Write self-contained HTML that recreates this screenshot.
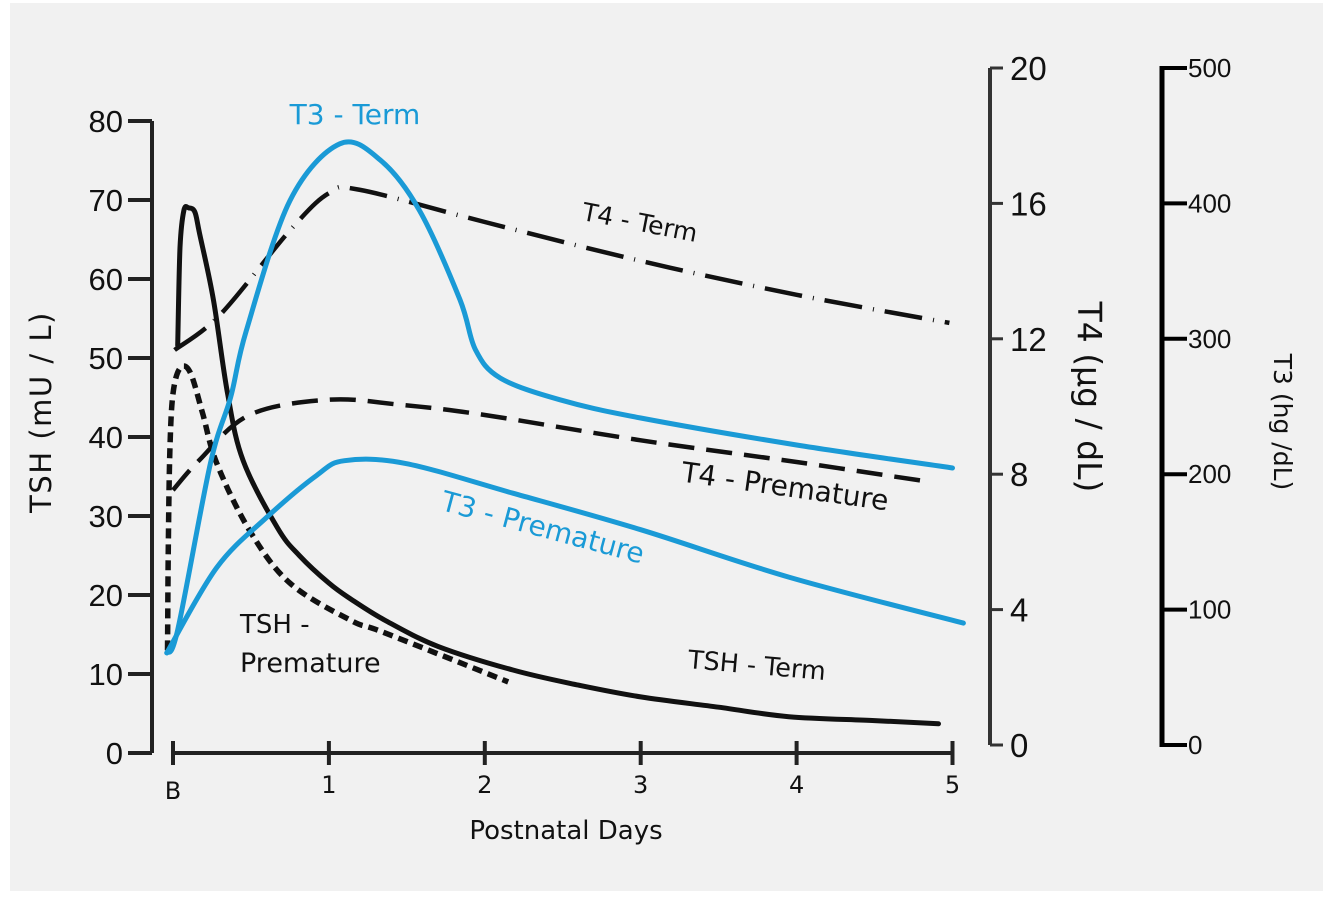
<!DOCTYPE html>
<html><head><meta charset="utf-8"><style>
html,body{margin:0;padding:0;background:#fff;}
svg{display:block;font-family:"Liberation Sans","DejaVu Sans",sans-serif;}
</style></head><body>
<svg id="chart" width="1334" height="897" viewBox="0 0 1334 897" xmlns="http://www.w3.org/2000/svg">
<rect x="10" y="3" width="1313" height="888" fill="#f1f1f1"/>
<g id="axes"></g>
<g id="series"></g>
<g id="labels" font-family="'DejaVu Sans','Liberation Sans',sans-serif">
<text x="355" y="124" font-size="28" fill="#1a9ad6" text-anchor="middle">T3 - Term</text>
<text x="640" y="231" font-size="25" fill="#111" text-anchor="middle" transform="rotate(11 640 222)">T4 - Term</text>
<text x="785" y="496" font-size="28" fill="#111" text-anchor="middle" transform="rotate(8 785 487)">T4 - Premature</text>
<text x="543" y="537" font-size="28" fill="#1a9ad6" text-anchor="middle" transform="rotate(15 543 527)">T3 - Premature</text>
<text x="240" y="633" font-size="26" fill="#111">TSH -</text>
<text x="240" y="672" font-size="27" fill="#111">Premature</text>
<text x="757" y="674" font-size="25.5" fill="#111" text-anchor="middle" transform="rotate(5 757 665)">TSH - Term</text>
<text x="0" y="0" font-size="29" letter-spacing="1.5" fill="#111" text-anchor="middle" transform="translate(51 412) rotate(-90)">TSH (mU / L)</text>
<text x="0" y="0" font-size="33" fill="#111" text-anchor="middle" transform="translate(1078 397) rotate(90)">T4 (µg / dL)</text>
<text x="0" y="0" font-size="25" fill="#111" text-anchor="middle" transform="translate(1274 422) rotate(90)">T3 (hg /dL)</text>
<text x="566" y="839" font-size="26" fill="#111" text-anchor="middle">Postnatal Days</text>
</g>
</svg>
<script>
const xTickLabels = ["B","1","2","3","4","5"];
const xTickDays = [0,1,2,3,4,5];
const tshTicks = [0,10,20,30,40,50,60,70,80];
const t4Ticks = [0,4,8,12,16,20];
const t3Ticks = [0,100,200,300,400,500];

const tshTermDays = [0.03,0.045,0.07,0.1,0.14,0.17,0.26,0.35,0.45,0.67,0.81,1.0,1.14,1.36,1.7,2.18,2.6,3.0,3.5,3.95,4.5,4.91];
const tshTermVals = [51.6,64,68.7,69,68.5,65.8,57.3,45.5,37,28.5,25,21.5,19.5,16.8,13.5,10.5,8.6,7.1,5.8,4.6,4.1,3.7];
const tshPremDays = [-0.035,-0.03,-0.02,0,0.045,0.11,0.19,0.28,0.49,0.75,1.14,1.36,2.15];
const tshPremVals = [13,26,38.4,45.5,48.7,48.2,43,36.7,28.2,21.5,16.8,15.2,9];
const t4TermDays = [0.01,0.3,0.75,1.0,1.2,2.0,3.0,4.0,4.98];
const t4TermVals = [11.67,12.7,15.2,16.3,16.4,15.45,14.3,13.3,12.47];
const t4PremDays = [0,0.17,0.49,1.0,1.46,2.0,3.0,4.0,4.86];
const t4PremVals = [7.53,8.42,9.75,10.2,10.05,9.75,9.0,8.36,7.77];
const t3TermDays = [-0.04,0.03,0.24,0.37,0.47,0.75,1.07,1.33,1.58,1.84,1.94,2.1,2.48,3.0,4.0,5.0];
const t3TermVals = [68,85,208,257,306,402,444,432,395,329,292,271,255,241.5,221.6,204.6];
const t3PremDays = [-0.04,0.28,0.6,0.92,1.1,1.49,2.18,3.0,3.95,5.07];
const t3PremVals = [68,131,168,199,210,208,186,159,124,90];

const NS = "http://www.w3.org/2000/svg";
function xS(d){return 173 + 155.9*d;}
function yTSH(v){return 753 - 7.9*v;}
function yT4(v){return 745 - 33.85*v;}
function yT3(v){return 745 - 1.354*v;}
function mk(tag, attrs, parent){const e=document.createElementNS(NS,tag);for(const k in attrs)e.setAttribute(k,attrs[k]);parent.appendChild(e);return e;}
function smooth(pts){
  let d="M"+pts[0][0].toFixed(1)+","+pts[0][1].toFixed(1);
  for(let i=0;i<pts.length-1;i++){
    const p0=pts[Math.max(0,i-1)],p1=pts[i],p2=pts[i+1],p3=pts[Math.min(pts.length-1,i+2)];
    const c1=[p1[0]+(p2[0]-p0[0])/6,p1[1]+(p2[1]-p0[1])/6];
    const c2=[p2[0]-(p3[0]-p1[0])/6,p2[1]-(p3[1]-p1[1])/6];
    d+=" C"+c1[0].toFixed(1)+","+c1[1].toFixed(1)+" "+c2[0].toFixed(1)+","+c2[1].toFixed(1)+" "+p2[0].toFixed(1)+","+p2[1].toFixed(1);
  }
  return d;
}
const axes=document.getElementById('axes');
const series=document.getElementById('series');
const ax="#222";
const tf="'DejaVu Sans','Liberation Sans',sans-serif";
let el=mk('line',{x1:152,y1:yTSH(80),x2:152,y2:yTSH(0),stroke:ax,'stroke-width':4},axes);


tshTicks.forEach(v=>{
  const t=mk('line',{x1:128,y1:yTSH(v),x2:152,y2:yTSH(v),stroke:ax,'stroke-width':4},axes);
  
  
  const l=mk('text',{x:123,y:yTSH(v)+11,'font-size':31,'text-anchor':'end',fill:'#111'},axes);
  l.textContent=v;
  
  
});
el=mk('line',{x1:xS(0),y1:753,x2:xS(5),y2:753,stroke:ax,'stroke-width':4},axes);


xTickDays.forEach((d,i)=>{
  const t=mk('line',{x1:xS(d),y1:741,x2:xS(d),y2:765,stroke:ax,'stroke-width':4},axes);
  
  
  const l=mk('text',{x:xS(d),y:i===0?799:793,'font-size':24,'font-family':tf,'text-anchor':'middle',fill:'#111'},axes);
  l.textContent=xTickLabels[i];
  
  
});
el=mk('line',{x1:990,y1:yT4(20),x2:990,y2:yT4(0),stroke:'#333','stroke-width':4},axes);


t4Ticks.forEach(v=>{
  const t=mk('line',{x1:990,y1:yT4(v),x2:1003,y2:yT4(v),stroke:'#333','stroke-width':3},axes);
  
  
  const l=mk('text',{x:1010,y:yT4(v)+12,'font-size':33,fill:'#111'},axes);
  l.textContent=v;
  
  
});
el=mk('line',{x1:1162,y1:yT3(500)-2,x2:1162,y2:yT3(0)+2,stroke:'#000','stroke-width':5},axes);


t3Ticks.forEach(v=>{
  const t=mk('line',{x1:1162,y1:yT3(v),x2:1187,y2:yT3(v),stroke:'#000','stroke-width':4},axes);
  
  
  const l=mk('text',{x:1188,y:yT3(v)+9,'font-size':26,fill:'#111'},axes);
  l.textContent=v;
  
  
});
function drawSeries(days, vals, yf, style, name){
  const pts=days.map((d,i)=>[xS(d),yf(vals[i])]);
  const p=mk('path',Object.assign({d:smooth(pts),fill:'none','stroke-linecap':'round','stroke-linejoin':'round'},style),series);
  
  
}
drawSeries(t4TermDays,t4TermVals,yT4,{stroke:'#111','stroke-width':4.5,'stroke-dasharray':'38,11,1,11','stroke-linecap':'butt'},'t4-term-line');
drawSeries(t4PremDays,t4PremVals,yT4,{stroke:'#111','stroke-width':4.5,'stroke-dasharray':'26,12','stroke-linecap':'butt'},'t4-premature-line');
drawSeries(tshPremDays,tshPremVals,yTSH,{stroke:'#111','stroke-width':5.5,'stroke-dasharray':'10,6','stroke-linecap':'butt'},'tsh-premature-line');
drawSeries(tshTermDays,tshTermVals,yTSH,{stroke:'#111','stroke-width':5},'tsh-term-line');
drawSeries(t3PremDays,t3PremVals,yT3,{stroke:'#1a9ad6','stroke-width':5},'t3-premature-line');
drawSeries(t3TermDays,t3TermVals,yT3,{stroke:'#1a9ad6','stroke-width':5},'t3-term-line');
</script>
</body></html>
